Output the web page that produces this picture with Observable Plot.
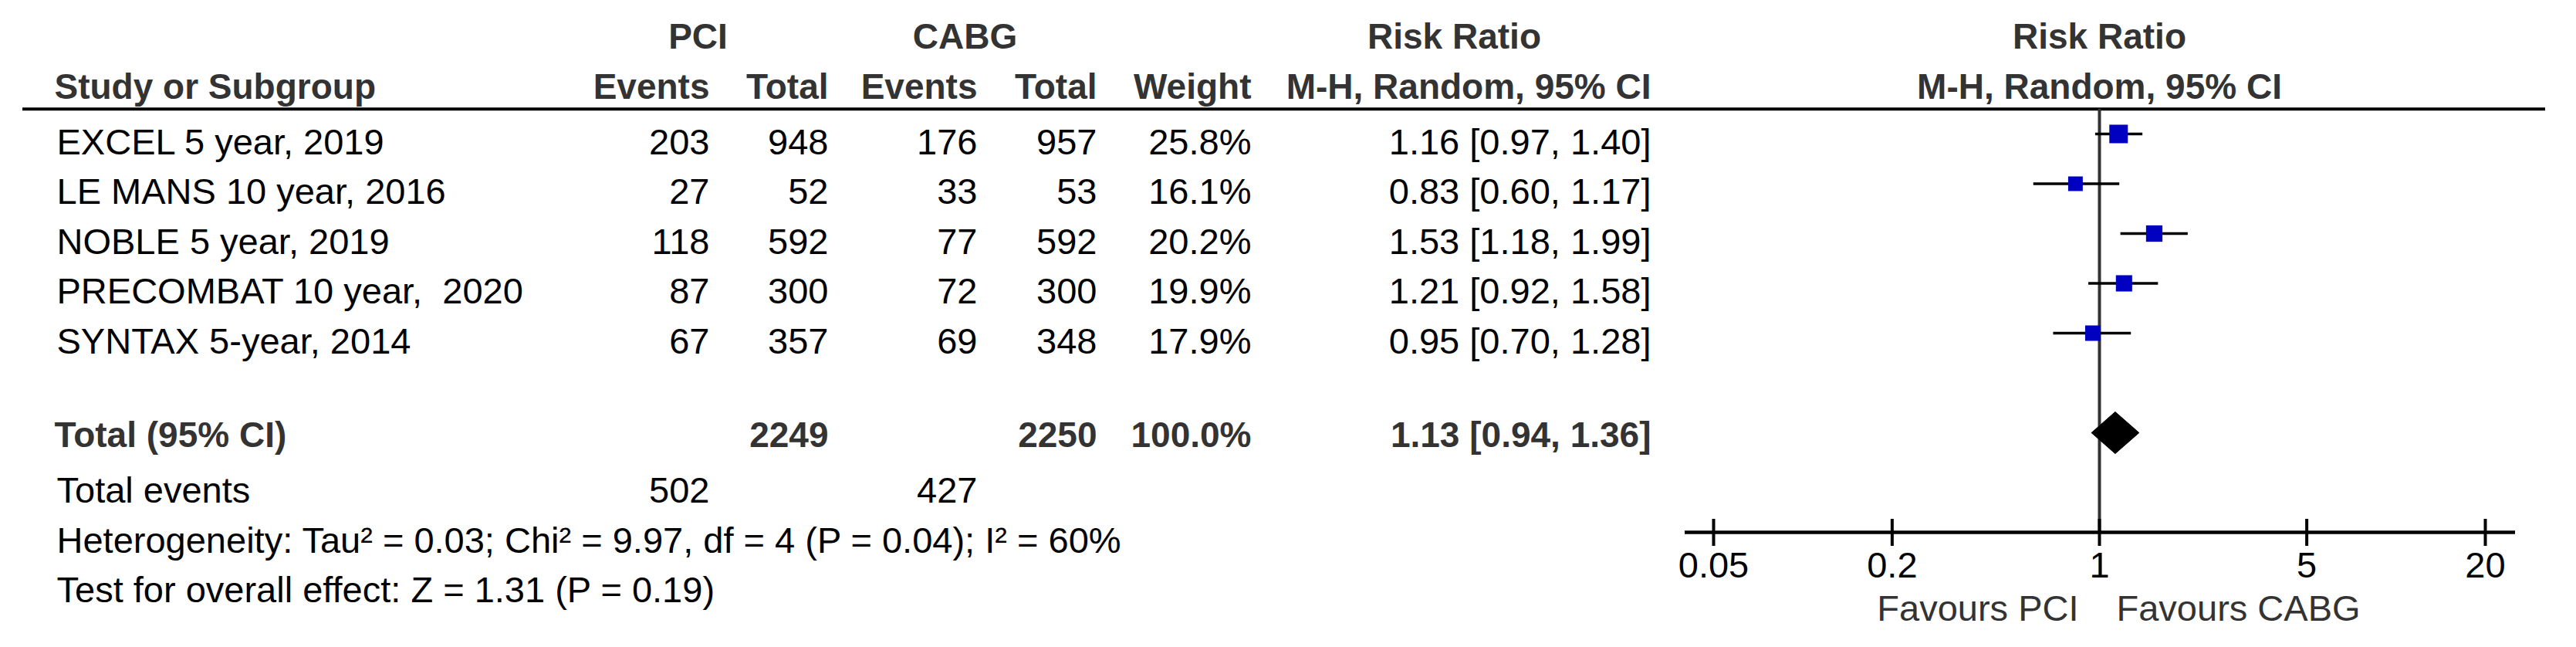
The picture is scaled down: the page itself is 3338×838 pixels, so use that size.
<!DOCTYPE html>
<html>
<head>
<meta charset="utf-8">
<script src="https://cdn.jsdelivr.net/npm/d3@7"></script>
<script src="https://cdn.jsdelivr.net/npm/@observablehq/plot@0.6"></script>
<style>
  html, body { margin: 0; padding: 0; background: #fff; }
  #chart svg text { white-space: pre; }
</style>
</head>
<body>
<div id="chart"></div>
<script>
// ---- data ----
const studies = ["EXCEL 5 year, 2019", "LE MANS 10 year, 2016", "NOBLE 5 year, 2019", "PRECOMBAT 10 year,  2020", "SYNTAX 5-year, 2014"];
const pciEvents = [203, 27, 118, 87, 67];
const pciTotal = [948, 52, 592, 300, 357];
const cabgEvents = [176, 33, 77, 72, 69];
const cabgTotal = [957, 53, 592, 300, 348];
const weights = [25.8, 16.1, 20.2, 19.9, 17.9];
const riskRatio = [1.16, 0.83, 1.53, 1.21, 0.95];
const ciLow = [0.97, 0.60, 1.18, 0.92, 0.70];
const ciHigh = [1.40, 1.17, 1.99, 1.58, 1.28];
const totalLabel = "Total (95% CI)";
const totalParticipants = [2249, 2250];
const totalWeight = 100.0;
const pooled = [1.13];
const pooledLow = [0.94];
const pooledHigh = [1.36];
const totalEventsLabel = "Total events";
const totalEvents = [502, 427];
const heterogeneityText = "Heterogeneity: Tau² = 0.03; Chi² = 9.97, df = 4 (P = 0.04); I² = 60%";
const overallText = "Test for overall effect: Z = 1.31 (P = 0.19)";
const groupHeaders = ["PCI", "CABG", "Risk Ratio", "Risk Ratio"];
const columnHeaders = ["Study or Subgroup", "Events", "Total", "Events", "Total", "Weight", "M-H, Random, 95% CI", "M-H, Random, 95% CI"];
const tickValues = [0.05, 0.2, 1, 5, 20];
const favourLabels = ["Favours PCI", "Favours CABG"];

// ---- layout (pixels) ----
const W = 3338, H = 838;
const ROW0 = 173, ROWH = 64.5;
const col = { name: 73, pciEv: 919, pciTot: 1073, cabgEv: 1266, cabgTot: 1421, weight: 1621, ci: 2139 };
const FONT = "'Liberation Sans', Arial, sans-serif";
const fmt2 = v => v.toFixed(2);
const ciText = (e, l, h) => `${fmt2(e)} [${fmt2(l)}, ${fmt2(h)}]`;

const rows = studies.map((s, i) => ({
  i, study: s, pe: pciEvents[i], pt: pciTotal[i], ce: cabgEvents[i], ct: cabgTotal[i],
  w: weights[i], rr: riskRatio[i], lo: ciLow[i], hi: ciHigh[i]
}));
const TOTAL_ROW = 6, EVENTS_ROW = 7, HET_ROW = 8, TEST_ROW = 9, HEAD1 = -2, HEAD2 = -1, RULE_ROW = -0.5;
const AXIS_ROW = HET_ROW;

// text helper for table columns positioned from the frame's left edge
const cell = (data, opts) => Plot.text(data, {
  frameAnchor: "left", lineAnchor: "bottom", dy: 26, fill: "#000", ...opts
});
const boldOpts = { fontWeight: "bold", fill: "#333", fontSize: 46 };

const diamond = [
  { x: pooledLow[0], y: TOTAL_ROW },
  { x: pooled[0], y: TOTAL_ROW - 0.42 },
  { x: pooledHigh[0], y: TOTAL_ROW },
  { x: pooled[0], y: TOTAL_ROW + 0.42 },
  { x: pooledLow[0], y: TOTAL_ROW }
];

const headerRow1 = [
  { t: groupHeaders[0], x: 904 },
  { t: groupHeaders[1], x: 1250 },
  { t: groupHeaders[2], x: 1884 }
];
const headerRow2Right = [
  { t: columnHeaders[1], x: col.pciEv },
  { t: columnHeaders[2], x: col.pciTot },
  { t: columnHeaders[3], x: col.cabgEv },
  { t: columnHeaders[4], x: col.cabgTot },
  { t: columnHeaders[5], x: col.weight },
  { t: columnHeaders[6], x: col.ci }
];

const chart = Plot.plot({
  width: W, height: H, margin: 0,
  style: { fontFamily: FONT, fontSize: "47px", background: "#fff", color: "#000", overflow: "visible" },
  x: { type: "log", domain: [0.05, 20], range: [2220, 3220], axis: null },
  y: { type: "linear", domain: [HEAD1, TEST_ROW], range: [ROW0 + HEAD1 * ROWH, ROW0 + TEST_ROW * ROWH], axis: null },
  r: { type: "sqrt", domain: [0, d3.max(weights)], range: [0, 24 / Math.sqrt(Math.PI)] },
  marks: [
    // header rule
    Plot.ruleY([RULE_ROW], { stroke: "#000", strokeWidth: 4, insetLeft: 29, insetRight: 40 }),
    // group headers
    ...headerRow1.map(h => cell([h], { y: () => HEAD1, text: d => d.t, textAnchor: "middle", dx: h.x, dy: 18, ...boldOpts })),
    Plot.text([groupHeaders[3]], { x: () => 1, y: () => HEAD1, text: d => d, lineAnchor: "bottom", dy: 18, ...boldOpts }),
    // column headers
    cell([columnHeaders[0]], { y: () => HEAD2, text: d => d, textAnchor: "start", dx: 70, dy: 18.5, ...boldOpts }),
    ...headerRow2Right.map(h => cell([h], { y: () => HEAD2, text: d => d.t, textAnchor: "end", dx: h.x, dy: 18.5, ...boldOpts })),
    Plot.text([columnHeaders[7]], { x: () => 1, y: () => HEAD2, text: d => d, lineAnchor: "bottom", dy: 18.5, ...boldOpts }),
    // study rows
    cell(rows, { y: "i", text: "study", textAnchor: "start", dx: col.name }),
    cell(rows, { y: "i", text: d => String(d.pe), textAnchor: "end", dx: col.pciEv }),
    cell(rows, { y: "i", text: d => String(d.pt), textAnchor: "end", dx: col.pciTot }),
    cell(rows, { y: "i", text: d => String(d.ce), textAnchor: "end", dx: col.cabgEv }),
    cell(rows, { y: "i", text: d => String(d.ct), textAnchor: "end", dx: col.cabgTot }),
    cell(rows, { y: "i", text: d => d.w.toFixed(1) + "%", textAnchor: "end", dx: col.weight }),
    cell(rows, { y: "i", text: d => ciText(d.rr, d.lo, d.hi), textAnchor: "end", dx: col.ci }),
    // total row
    cell([totalLabel], { y: () => TOTAL_ROW, text: d => d, textAnchor: "start", dx: col.name - 3, dy: 18, ...boldOpts }),
    cell([totalParticipants[0]], { y: () => TOTAL_ROW, text: d => String(d), textAnchor: "end", dx: col.pciTot, dy: 18, ...boldOpts }),
    cell([totalParticipants[1]], { y: () => TOTAL_ROW, text: d => String(d), textAnchor: "end", dx: col.cabgTot, dy: 18, ...boldOpts }),
    cell([totalWeight], { y: () => TOTAL_ROW, text: d => d.toFixed(1) + "%", textAnchor: "end", dx: col.weight, dy: 18, ...boldOpts }),
    cell([0], { y: () => TOTAL_ROW, text: () => ciText(pooled[0], pooledLow[0], pooledHigh[0]), textAnchor: "end", dx: col.ci, dy: 18, ...boldOpts }),
    // total events
    cell([totalEventsLabel], { y: () => EVENTS_ROW, text: d => d, textAnchor: "start", dx: col.name }),
    cell([totalEvents[0]], { y: () => EVENTS_ROW, text: d => String(d), textAnchor: "end", dx: col.pciEv }),
    cell([totalEvents[1]], { y: () => EVENTS_ROW, text: d => String(d), textAnchor: "end", dx: col.cabgEv }),
    // statistics
    cell([heterogeneityText], { y: () => HET_ROW, text: d => d, textAnchor: "start", dx: col.name }),
    cell([overallText], { y: () => TEST_ROW, text: d => d, textAnchor: "start", dx: col.name }),

    // forest plot: line of no effect
    Plot.ruleX([1], { y1: RULE_ROW, y2: AXIS_ROW, stroke: "#333", strokeWidth: 4 }),
    // confidence intervals
    Plot.ruleY(rows, { y: "i", x1: "lo", x2: "hi", stroke: "#000", strokeWidth: 3.5 }),
    // study squares
    Plot.dot(rows, { x: "rr", y: "i", r: "w", symbol: "square", fill: "#0000c0", stroke: "none" }),
    // pooled diamond
    Plot.line(diamond, { x: "x", y: "y", fill: "#000", stroke: "#000", strokeWidth: 1, curve: "linear" }),
    // axis
    Plot.ruleY([AXIS_ROW], { x1: tickValues[0], x2: tickValues[tickValues.length - 1], insetLeft: -37, insetRight: -39, stroke: "#000", strokeWidth: 4.5 }),
    Plot.ruleX(tickValues, { x: d => d, y1: () => AXIS_ROW, y2: () => AXIS_ROW, insetTop: -17, insetBottom: -18, stroke: "#000", strokeWidth: 4 }),
    Plot.text(tickValues, { x: d => d, y: () => AXIS_ROW, text: d => String(d), lineAnchor: "bottom", dy: 58, fill: "#000" }),
    Plot.text([favourLabels[0]], { x: () => 1, y: () => AXIS_ROW, text: d => d, textAnchor: "end", lineAnchor: "bottom", dx: -27, dy: 114, fill: "#333" }),
    Plot.text([favourLabels[1]], { x: () => 1, y: () => AXIS_ROW, text: d => d, textAnchor: "start", lineAnchor: "bottom", dx: 22, dy: 114, fill: "#333" })
  ]
});
document.getElementById("chart").appendChild(chart);
</script>
</body>
</html>
